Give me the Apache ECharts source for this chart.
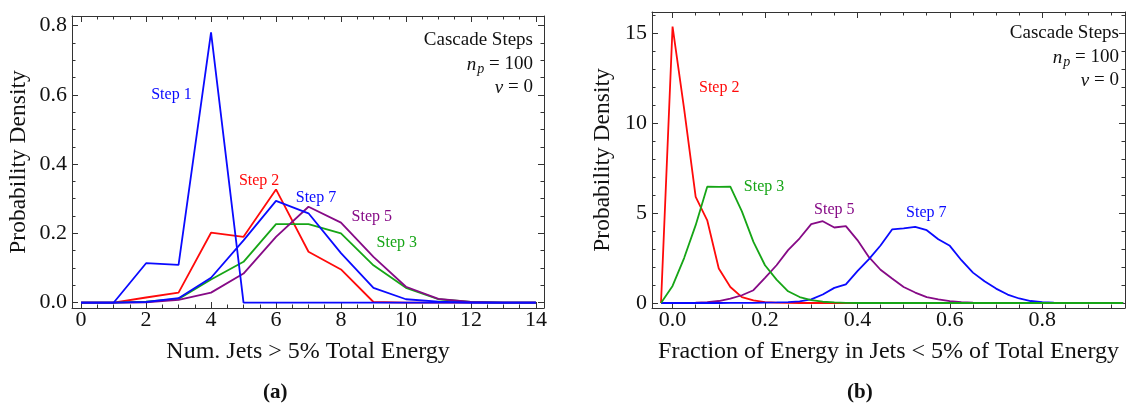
<!DOCTYPE html>
<html><head><meta charset="utf-8">
<script src="https://cdn.jsdelivr.net/npm/echarts@6/dist/echarts.min.js"></script>
<style>html,body{margin:0;padding:0;background:#fff}#c{width:1126px;height:403px}</style>
</head><body><div id="c"></div>
<script>
// ---------- Data: panel (a) ----------
var xA = [0,1,2,3,4,5,6,7,8,9,10,11,12,13,14];
var a_step1 = [0,0,0.114,0.109,0.78,0,0,0,0,0,0,0,0,0,0];
var a_step2 = [0,0,0.015,0.029,0.202,0.19,0.327,0.147,0.096,0.002,0,0,0,0,0];
var a_step3 = [0,0,0.003,0.011,0.067,0.118,0.227,0.227,0.2,0.108,0.043,0.01,0.002,0,0];
var a_step5 = [0,0,0.001,0.008,0.029,0.084,0.19,0.277,0.231,0.132,0.046,0.011,0.002,0,0];
var a_step7 = [0,0,0.002,0.013,0.072,0.18,0.294,0.258,0.143,0.043,0.01,0.003,0,0,0];
var a_xMajor = [0,2,4,6,8,10,12,14];
var a_xMinor = [0.5,1,1.5,2.5,3,3.5,4.5,5,5.5,6.5,7,7.5,8.5,9,9.5,10.5,11,11.5,12.5,13,13.5];
var a_yMajor = [0,0.2,0.4,0.6,0.8];
var a_yMinor = [0.05,0.1,0.15,0.25,0.3,0.35,0.45,0.5,0.55,0.65,0.7,0.75];

// ---------- Data: panel (b) ----------
var xB = [-0.025,0,0.025,0.05,0.075,0.1,0.125,0.15,0.175,0.2,0.225,0.25,0.275,0.3,0.325,0.35,0.375,0.4,0.425,0.45,0.475,0.5,0.525,0.55,0.575,0.6,0.625,0.65,0.675,0.7,0.725,0.75,0.775,0.8,0.825,0.85,0.875,0.9,0.925,0.95,0.975];
var b_step2 = [0,15.38,10.8,5.9,4.6,1.92,0.89,0.33,0.14,0.05,0.02,0.01,0,0,0,0,0,0,0,0,0,0,0,0,0,0,0,0,0,0,0,0,0,0,0,0,0,0,0,0,0];
var b_step3 = [0,0.95,2.5,4.33,6.47,6.46,6.47,5.1,3.4,2.1,1.3,0.65,0.33,0.16,0.07,0.03,0.01,0,0,0,0,0,0,0,0,0,0,0,0,0,0,0,0,0,0,0,0,0,0,0,0];
var b_step5 = [0,0,0.01,0.02,0.05,0.11,0.24,0.43,0.71,1.4,2.1,2.94,3.6,4.39,4.55,4.2,4.28,3.5,2.55,1.85,1.36,0.89,0.58,0.33,0.2,0.1,0.05,0.02,0.01,0,0,0,0,0,0,0,0,0,0,0,0];
var b_step7 = [0,0,0,0,0,0,0.01,0.01,0.01,0.02,0.03,0.05,0.09,0.2,0.47,0.84,1.04,1.77,2.44,3.2,4.09,4.15,4.24,4.05,3.55,3.18,2.38,1.69,1.21,0.8,0.47,0.25,0.11,0.05,0.02,0.01,0,0,0,0,0];
var b_xMajor = [0,0.2,0.4,0.6,0.8];
var b_xMinor = [0.05,0.1,0.15,0.25,0.3,0.35,0.45,0.5,0.55,0.65,0.7,0.75,0.85,0.9,0.95];
var b_yMajor = [0,5,10,15];
var b_yMinor = [1,2,3,4,6,7,8,9,11,12,13,14,16];

// ---------- Styling ----------
var FONT = 'Liberation Serif';
var C = {blue:'#0a0aff', red:'#ff0a0a', green:'#16a516', purple:'#860a86'};
var FRAME = '#333';

function pairs(xs, ys){ return xs.map(function(x,i){ return [x, ys[i]]; }); }

function axesFor(dim, grid, min, max, majors, minors, fmt, name, gap){
  var pos = dim === 'x' ? ['bottom','top'] : ['left','right'];
  var out = [];
  pos.forEach(function(p, k){
    out.push({
      type:'value', gridIndex:grid, position:p, min:min, max:max,
      axisLine:{show:true, onZero:false, lineStyle:{color:FRAME, width:1}},
      axisTick:{show:true, inside:true, length:6, customValues:majors, lineStyle:{color:FRAME, width:1}},
      axisLabel:{show:k===0, customValues:majors, formatter:fmt, color:'#111', fontFamily:FONT, fontSize:22, margin: dim==='x'?1:5},
      splitLine:{show:false},
      name: k===0 ? name : '', nameLocation:'middle', nameGap:gap,
      nameTextStyle:{fontFamily:FONT, fontSize: dim==='x'?24:23.5, color:'#111'}
    });
    out.push({
      type:'value', gridIndex:grid, position:p, min:min, max:max,
      axisLine:{show:false, onZero:false},
      axisTick:{show:true, inside:true, length:3.5, customValues:minors, lineStyle:{color:FRAME, width:1}},
      axisLabel:{show:false}, splitLine:{show:false}
    });
  });
  return out;
}

var f1 = function(v){ return v.toFixed(1); };
var f0 = function(v){ return String(Math.round(v)); };

var xAxes = axesFor('x',0,-0.28,14.25,a_xMajor,a_xMinor,f0,'Num. Jets > 5% Total Energy',32)
  .concat(axesFor('x',1,-0.0445,0.979,b_xMajor,b_xMinor,f1,'Fraction of Energy in Jets < 5% of Total Energy',32));
var yAxes = axesFor('y',0,-0.0153,0.8274,a_yMajor,a_yMinor,f1,'Probability Density',41)
  .concat(axesFor('y',1,-0.279,16.19,b_yMajor,b_yMinor,f0,'Probability Density',37));

function ser(grid, xs, ys, color, label, lx, ly){
  return {
    type:'line', xAxisIndex: grid*4, yAxisIndex: grid*4, data: pairs(xs, ys),
    symbol:'none', lineStyle:{color:color, width:1.8}, itemStyle:{color:color},
    silent:true, animation:false,
    markPoint:{symbol:'circle', symbolSize:0, silent:true, animation:false,
      label:{show:true, position:'inside', formatter:label, color:color, fontFamily:FONT, fontSize:16},
      data:[{coord:[lx, ly]}]}
  };
}

var series = [
  ser(0, xA, a_step2, C.red, 'Step 2', 5.48, 0.351),
  ser(0, xA, a_step3, C.green, 'Step 3', 9.72, 0.172),
  ser(0, xA, a_step5, C.purple, 'Step 5', 8.95, 0.247),
  ser(0, xA, a_step7, C.blue, 'Step 7', 7.23, 0.302),
  ser(0, xA, a_step1, C.blue, 'Step 1', 2.78, 0.599),
  ser(1, xB, b_step2, C.red, 'Step 2', 0.101, 11.97),
  ser(1, xB, b_step5, C.purple, 'Step 5', 0.35, 5.17),
  ser(1, xB, b_step7, C.blue, 'Step 7', 0.549, 5.0),
  ser(1, xB, b_step3, C.green, 'Step 3', 0.198, 6.45)
];

function cornerText(right, y0){
  var base = {fontFamily:FONT, fontSize:19, fill:'#111', textAlign:'right', textVerticalAlign:'middle'};
  return [
    {type:'text', right: 1126-right, top: y0-11, style: Object.assign({text:'Cascade Steps'}, base)},
    {type:'text', right: 1126-right, top: y0+13, style: Object.assign({
      text:'{i|n}{s|p}{t| = 100}',
      rich:{i:{fontFamily:FONT, fontSize:19, fontStyle:'italic', fill:'#111'},
            s:{fontFamily:FONT, fontSize:14, fontStyle:'italic', fill:'#111', padding:[9,0,0,1]},
            t:{fontFamily:FONT, fontSize:19, fill:'#111'}}}, base)},
    {type:'text', right: 1126-right, top: y0+36, style: Object.assign({
      text:'{i|ν}{t| = 0}',
      rich:{i:{fontFamily:FONT, fontSize:19, fontStyle:'italic', fill:'#111'},
            t:{fontFamily:FONT, fontSize:19, fill:'#111'}}}, base)}
  ];
}

var graphics = cornerText(533, 42).concat(cornerText(1119, 35)).concat([
  {type:'text', left:263, top:382, style:{text:'(a)', fontFamily:FONT, fontWeight:'bold', fontSize:21, fill:'#111'}},
  {type:'text', left:847, top:382, style:{text:'(b)', fontFamily:FONT, fontWeight:'bold', fontSize:21, fill:'#111'}}
]);

var chart = echarts.init(document.getElementById('c'), null, {renderer:'canvas'});
chart.setOption({
  animation:false,
  backgroundColor:'#fff',
  grid:[
    {left:72, top:16, width:472, height:292},
    {left:652, top:12, width:473, height:296}
  ],
  xAxis: xAxes,
  yAxis: yAxes,
  series: series,
  graphic: graphics
});
</script>
</body></html>
